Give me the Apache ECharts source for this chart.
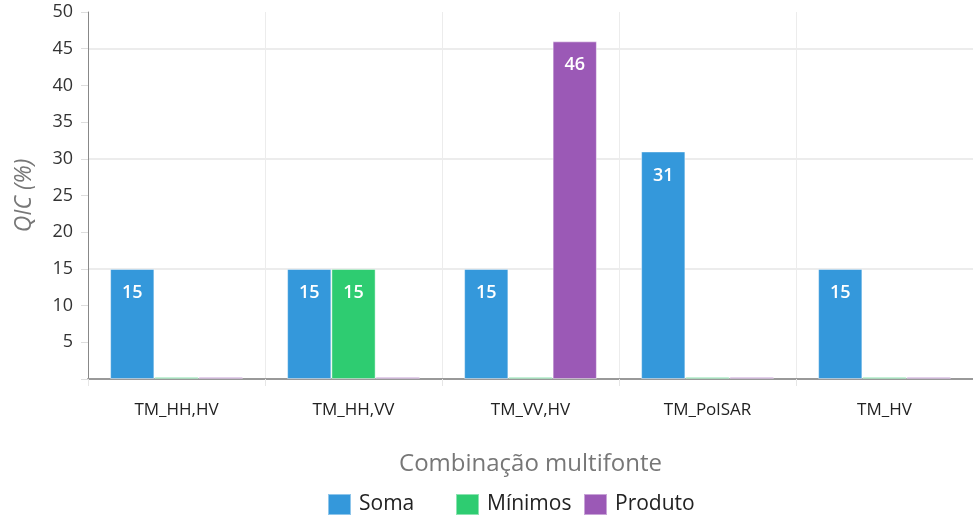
<!DOCTYPE html>
<html>
<head>
<meta charset="utf-8">
<script src="https://cdn.jsdelivr.net/npm/echarts@6/dist/echarts.min.js"></script>
<style>
  html, body { margin: 0; padding: 0; background: #fff; }
  #chart { width: 973px; height: 520px; }
</style>
</head>
<body>
<div id="chart"></div>
<script>
// Combinations of sources on the x axis
const categories = ['TM_HH,HV', 'TM_HH,VV', 'TM_VV,HV', 'TM_PolSAR', 'TM_HV'];
// QIC (%) per fusion rule
const soma = [15, 15, 15, 31, 15];
const minimos = [0, 15, 0, 0, 0];
const produto = [0, 0, 46, 0, 0];
const yTicks = { min: 0, max: 50, step: 5 };
const seriesNames = ['Soma', 'Mínimos', 'Produto'];
const seriesColors = ['#3498db', '#2ecc71', '#9b59b6'];

const FONT = "'Open Sans', 'Noto Sans', sans-serif";

function barSeries(name, data, color) {
  return {
    name: name,
    type: 'bar',
    data: data,
    barGap: '0%',
    barCategoryGap: '25%',
    barMinHeight: 2,
    itemStyle: { color: color, borderColor: 'rgba(255,255,255,0.45)', borderWidth: 1 },
    label: {
      show: true,
      position: 'insideTop',
      distance: 15,
      color: '#fff',
      fontFamily: FONT,
      fontSize: 18,
      fontWeight: 600,
      formatter: p => (p.value ? String(p.value) : '')
    }
  };
}

// one legend block per series, laid out with a fixed item pitch
const legendLefts = [327, 455, 583];
const legends = seriesNames.map((n, i) => ({
  left: legendLefts[i],
  top: 493,
  padding: 0,
  itemWidth: 23,
  itemHeight: 21,
  itemGap: 0,
  icon: 'rect',
  textStyle: { fontFamily: FONT, fontSize: 21, color: '#222', padding: [0, 0, 0, 3] },
  data: [n]
}));

const chart = echarts.init(document.getElementById('chart'));
chart.setOption({
  animation: false,
  textStyle: { fontFamily: FONT },
  grid: { left: 88, right: 0, top: 12, bottom: 141, containLabel: false },
  legend: legends,
  xAxis: {
    type: 'category',
    data: categories,
    name: 'Combinação multifonte',
    nameLocation: 'middle',
    nameGap: 73,
    nameTextStyle: { fontFamily: FONT, fontSize: 24, color: '#777' },
    axisLine: { lineStyle: { color: '#999', width: 2 } },
    axisTick: { show: true, length: 7, lineStyle: { color: '#e6e6e6' } },
    axisLabel: { fontFamily: FONT, fontSize: 17, color: '#222', margin: 23 },
    splitLine: { show: true, lineStyle: { color: '#ececec' } }
  },
  yAxis: {
    type: 'value',
    min: yTicks.min,
    max: yTicks.max,
    interval: yTicks.step,
    name: 'QIC (%)',
    nameLocation: 'middle',
    nameGap: 52,
    nameTextStyle: { fontFamily: FONT, fontSize: 23, color: '#777', fontStyle: 'italic' },
    axisLine: { show: true, lineStyle: { color: '#888', width: 1 } },
    axisTick: { show: true, length: 7, lineStyle: { color: '#ddd' } },
    axisLabel: {
      fontFamily: FONT, fontSize: 18, color: '#333', margin: 15,
      formatter: v => (v === 0 ? '' : String(v))
    },
    splitLine: {
      show: true,
      lineStyle: { color: ['#ececec', 'rgba(0,0,0,0)', 'rgba(0,0,0,0)'], width: 2 }
    }
  },
  series: seriesNames.map((n, i) => barSeries(n, [soma, minimos, produto][i], seriesColors[i]))
});
</script>
</body>
</html>
